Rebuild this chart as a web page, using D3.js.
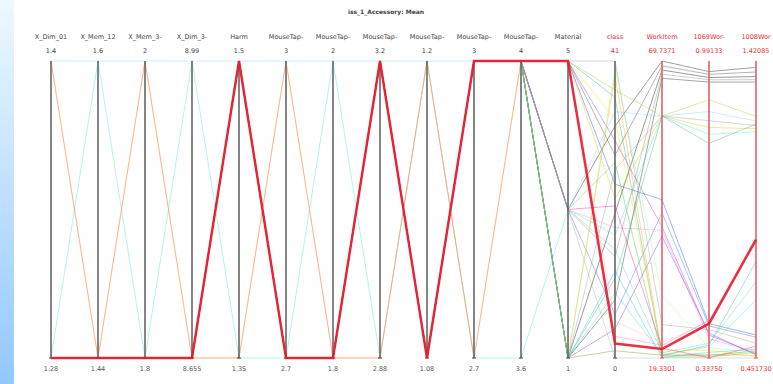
<!DOCTYPE html>
<html>
<head>
<meta charset="utf-8">
<script src="https://cdn.jsdelivr.net/npm/d3@7"></script>
<style>
  body { margin: 0; background: #fff; }
  svg { display: block; font-family: "DejaVu Sans", sans-serif; }
</style>
</head>
<body>
<div id="chart"></div>
<script>
// axis names, ranges and their printed end labels
var dimensions = ["X_Dim_01", "X_Mem_12", "X_Mem_3-", "X_Dim_3-", "Harm", "MouseTap-", "MouseTap-",
  "MouseTap-", "MouseTap-", "MouseTap-", "MouseTap-", "Material", "class", "WorkItem", "1069Wor-", "1008Wor"];
var domainMin = [1.28, 1.44, 1.8, 8.655, 1.35, 2.7, 1.8, 2.88, 1.08, 2.7, 3.6, 1, 0, 19.3301, 0.3375, 0.45173];
var domainMax = [1.4, 1.6, 2, 8.99, 1.5, 3, 2, 3.2, 1.2, 3, 4, 5, 41, 69.7371, 0.99133, 1.42085];
var topLabels = ["1.4", "1.6", "2", "8.99", "1.5", "3", "2", "3.2", "1.2", "3", "4", "5", "41", "69.7371", "0.99133", "1.42085"];
var bottomLabels = ["1.28", "1.44", "1.8", "8.655", "1.35", "2.7", "1.8", "2.88", "1.08", "2.7", "3.6", "1", "0", "19.3301", "0.33750", "0.451730"];

// records, one value per axis
var rows = [
  [1.28, 1.44, 1.8, 8.655, 1.5, 2.7, 1.8, 3.2, 1.08, 3, 4, 5, 2, 20.86, 0.413, 0.838],
  [1.28, 1.44, 1.8, 8.655, 1.5, 2.7, 1.8, 3.2, 1.08, 3, 4, 3, 32, 69.7371, 0.968, 1.400],
  [1.28, 1.44, 1.8, 8.655, 1.5, 2.7, 1.8, 3.2, 1.08, 3, 4, 5, 28, 68.9, 0.962, 1.385],
  [1.28, 1.44, 1.8, 8.655, 1.5, 2.7, 1.8, 3.2, 1.08, 3, 4, 1, 20, 68.2, 0.955, 1.370],
  [1.28, 1.44, 1.8, 8.655, 1.5, 2.7, 1.8, 3.2, 1.08, 3, 4, 3, 14, 67.5, 0.950, 1.360],
  [1.28, 1.44, 1.8, 8.655, 1.5, 2.7, 1.8, 3.2, 1.08, 3, 4, 1, 8, 66.8, 0.945, 1.352],
  [1.28, 1.44, 1.8, 8.655, 1.5, 2.7, 1.8, 3.2, 1.08, 3, 4, 5, 37, 60.4, 0.906, 1.240],
  [1.4, 1.6, 2, 8.99, 1.5, 3, 2, 3.2, 1.2, 3, 4, 3, 34, 60.4, 0.880, 1.225],
  [1.28, 1.44, 1.8, 8.655, 1.5, 2.7, 1.8, 3.2, 1.08, 3, 4, 1, 26, 60.4, 0.860, 1.210],
  [1.28, 1.44, 1.8, 8.655, 1.5, 2.7, 1.8, 3.2, 1.08, 3, 4, 5, 22, 60.4, 0.845, 1.200],
  [1.28, 1.6, 1.8, 8.99, 1.35, 2.7, 2, 2.88, 1.2, 2.7, 3.6, 3, 17, 60.4, 0.830, 1.190],
  [1.28, 1.44, 1.8, 8.655, 1.5, 2.7, 1.8, 3.2, 1.08, 3, 4, 1, 11, 60.4, 0.810, 1.215],
  [1.28, 1.44, 1.8, 8.655, 1.5, 2.7, 1.8, 3.2, 1.08, 3, 4, 5, 24, 46.2, 0.413, 0.527],
  [1.28, 1.44, 1.8, 8.655, 1.5, 2.7, 1.8, 3.2, 1.08, 3, 4, 3, 6, 44.0, 0.408, 0.520],
  [1.28, 1.44, 1.8, 8.655, 1.5, 2.7, 1.8, 3.2, 1.08, 3, 4, 5, 30, 41.6, 0.388, 0.465],
  [1.28, 1.44, 1.8, 8.655, 1.5, 2.7, 1.8, 3.2, 1.08, 3, 4, 3, 18, 41.0, 0.380, 0.470],
  [1.28, 1.44, 1.8, 8.655, 1.5, 2.7, 1.8, 3.2, 1.08, 3, 4, 1, 4, 40.0, 0.392, 0.462],
  [1.28, 1.44, 1.8, 8.655, 1.5, 2.7, 1.8, 3.2, 1.08, 3, 4, 5, 36, 19.7, 0.366, 0.766],
  [1.28, 1.44, 1.8, 8.655, 1.5, 2.7, 1.8, 3.2, 1.08, 3, 4, 3, 15, 20.2, 0.370, 0.700],
  [1.28, 1.44, 1.8, 8.655, 1.5, 2.7, 1.8, 3.2, 1.08, 3, 4, 1, 9, 19.9, 0.362, 0.642],
  [1.4, 1.44, 2, 8.655, 1.35, 3, 1.8, 2.88, 1.2, 2.7, 4, 5, 3, 21.5, 0.420, 0.830],
  [1.28, 1.44, 1.8, 8.655, 1.5, 2.7, 1.8, 3.2, 1.08, 3, 4, 5, 5, 22.0, 0.416, 0.845],
  [1.4, 1.44, 2, 8.655, 1.35, 3, 1.8, 2.88, 1.2, 2.7, 4, 1, 39, 20.0, 0.345, 0.460],
  [1.28, 1.44, 1.8, 8.655, 1.5, 2.7, 1.8, 3.2, 1.08, 3, 4, 3, 27, 19.5, 0.340, 0.470],
  [1.28, 1.44, 1.8, 8.655, 1.5, 2.7, 1.8, 3.2, 1.08, 3, 4, 1, 12, 19.4, 0.350, 0.480],
  [1.28, 1.44, 1.8, 8.655, 1.5, 2.7, 1.8, 3.2, 1.08, 3, 4, 5, 33, 20.5, 0.355, 0.455],
  [1.28, 1.44, 1.8, 8.655, 1.5, 2.7, 1.8, 3.2, 1.08, 3, 4, 3, 21, 21.0, 0.338, 0.490],
  [1.28, 1.44, 1.8, 8.655, 1.5, 2.7, 1.8, 3.2, 1.08, 3, 4, 1, 1, 19.8, 0.343, 0.475],
  [1.28, 1.44, 1.8, 8.655, 1.5, 2.7, 1.8, 3.2, 1.08, 3, 4, 5, 41, 25.0, 0.400, 0.500],
  [1.28, 1.44, 1.8, 8.655, 1.5, 2.7, 1.8, 3.2, 1.08, 3, 4, 1, 40, 30.0, 0.360, 0.470],
  [1.28, 1.44, 1.8, 8.655, 1.5, 2.7, 1.8, 3.2, 1.08, 3, 4, 3, 0, 19.3301, 0.3375, 0.45173]
];
var highlightRow = 0;

var width = 773, height = 384;
var yTop = 61, yBottom = 358;

var palette = ["#e8192c", "#111111", "#444444", "#000000", "#888888", "#222222", "#9acd32", "#87cefa",
  "#999999", "#d4c800", "#40e0d0", "#3cb371", "#1e3cff", "#4169e1", "#9932cc", "#ee82ee", "#8a2be2",
  "#20b2aa", "#66cdaa", "#48d1cc", "#ff69b4", "#ffb6c1", "#ffa500", "#32cd32", "#00ced1", "#ffd700",
  "#ff1493", "#6b8e23", "#999999", "#98fb98", "#aaaaaa"];
var color = d3.scaleOrdinal().range(palette);

var svg = d3.select("#chart")
  .append("svg")
  .attr("width", width)
  .attr("height", height);

// left blue strip
var grad = svg.append("defs").append("linearGradient")
  .attr("id", "strip").attr("x1", 0).attr("y1", 0).attr("x2", 0).attr("y2", 1);
grad.append("stop").attr("offset", "0%").attr("stop-color", "#eef8ff");
grad.append("stop").attr("offset", "100%").attr("stop-color", "#92c8ff");
svg.append("rect").attr("x", 0).attr("y", 0).attr("width", 14).attr("height", height)
  .attr("fill", "url(#strip)");

var x = d3.scalePoint()
  .domain(d3.range(dimensions.length))
  .range([51, 756]);

var y = dimensions.map(function(d, i) {
  return d3.scaleLinear().domain([domainMin[i], domainMax[i]]).range([yBottom, yTop]);
});

function path(r) {
  return d3.line()(r.map(function(v, i) { return [x(i), y[i](v)]; }));
}

// title
svg.append("text")
  .attr("x", 386).attr("y", 14)
  .attr("text-anchor", "middle")
  .style("font-size", "6px").style("font-weight", "bold").attr("fill", "#444")
  .text("iss_1_Accessory: Mean");

// record lines
svg.append("g")
  .selectAll("path")
  .data(rows)
  .enter()
  .append("path")
  .attr("d", path)
  .attr("fill", "none")
  .attr("stroke", function(d) { return color(d[12]); })
  .attr("stroke-opacity", function(d, i) { return i == highlightRow ? 0 : 0.4; })
  .attr("stroke-width", 1);

// axes
var axes = svg.append("g")
  .selectAll("g")
  .data(dimensions)
  .enter()
  .append("g")
  .attr("transform", function(d, i) { return "translate(" + x(i) + ",0)"; });

axes.append("line")
  .attr("y1", yTop).attr("y2", yBottom)
  .attr("stroke", function(d, i) { return i > 12 ? "#e0606c" : "#666"; })
  .attr("stroke-width", 1.6);
axes.append("line")
  .attr("x1", -2).attr("x2", 2).attr("y1", yBottom).attr("y2", yBottom)
  .attr("stroke", function(d, i) { return i > 12 ? "#e0606c" : "#444"; });

axes.append("text")
  .attr("y", 39)
  .attr("text-anchor", "middle")
  .style("font-size", "6.5px")
  .attr("fill", function(d, i) { return i > 11 ? "#e8303c" : "#444"; })
  .text(function(d) { return d; });

axes.append("text")
  .attr("y", 53)
  .attr("text-anchor", "middle")
  .style("font-size", "6.5px")
  .attr("fill", function(d, i) { return i > 11 ? "#e8303c" : "#444"; })
  .text(function(d, i) { return topLabels[i]; });

axes.append("text")
  .attr("y", 371)
  .attr("text-anchor", "middle")
  .style("font-size", "6.5px")
  .attr("fill", function(d, i) { return i > 12 ? "#e8303c" : "#555"; })
  .text(function(d, i) { return bottomLabels[i]; });

// highlighted record
svg.append("path")
  .datum(rows[highlightRow])
  .attr("d", path)
  .attr("fill", "none")
  .attr("stroke", "#e8192c")
  .attr("stroke-opacity", 0.9)
  .attr("stroke-width", 2.5);
</script>
</body>
</html>
